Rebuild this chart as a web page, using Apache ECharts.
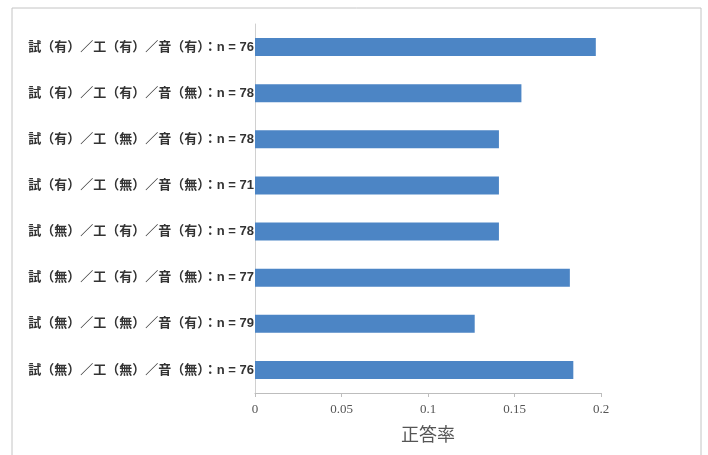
<!DOCTYPE html>
<html>
<head>
<meta charset="utf-8">
<script src="https://cdn.jsdelivr.net/npm/echarts@6/dist/echarts.min.js"></script>
<style>
  html, body { margin: 0; padding: 0; background: #fff; }
  #chart { width: 708px; height: 455px; }
</style>
</head>
<body>
<div id="chart"></div>
<script>
// Conditions (試 / 工 / 音) with sample size, listed top to bottom
const categories = [
  '試（有）／工（有）／音（有）：n = 76',
  '試（有）／工（有）／音（無）：n = 78',
  '試（有）／工（無）／音（有）：n = 78',
  '試（有）／工（無）／音（無）：n = 71',
  '試（無）／工（有）／音（有）：n = 78',
  '試（無）／工（有）／音（無）：n = 77',
  '試（無）／工（無）／音（有）：n = 79',
  '試（無）／工（無）／音（無）：n = 76'
];
// Correct-answer rate per condition
const rates = [0.197, 0.154, 0.141, 0.141, 0.141, 0.182, 0.127, 0.184];
const xTicks = ['0', '0.05', '0.1', '0.15', '0.2'];

const chart = echarts.init(document.getElementById('chart'));
chart.setOption({
  animation: false,
  backgroundColor: '#ffffff',
  graphic: [{
    type: 'rect',
    shape: { x: 12, y: 8, width: 689, height: 470 },
    style: { fill: 'none', stroke: '#c4c4c4', lineWidth: 1 },
    silent: true
  }],
  grid: { left: 255, right: 107, top: 24, bottom: 62 },
  xAxis: {
    type: 'value',
    min: 0,
    max: 0.2,
    interval: 0.05,
    name: '正答率',
    nameLocation: 'middle',
    nameGap: 32,
    nameTextStyle: { fontFamily: 'Noto Sans CJK JP', fontSize: 18, color: '#555' },
    axisLine: { show: true, lineStyle: { color: '#bdbdbd', width: 1 } },
    axisTick: { show: true, length: 4, lineStyle: { color: '#bdbdbd' } },
    splitLine: { show: false },
    axisLabel: {
      margin: 10,
      fontFamily: 'Liberation Serif, DejaVu Serif, serif',
      fontSize: 13,
      color: '#555',
      formatter: v => xTicks[Math.round(v / 0.05)]
    }
  },
  yAxis: {
    type: 'category',
    inverse: true,
    data: categories,
    axisLine: { show: true, lineStyle: { color: '#d0d0d0', width: 1 } },
    axisTick: { show: false },
    splitLine: { show: false },
    axisLabel: {
      margin: 1,
      fontFamily: 'Liberation Sans, Noto Sans CJK JP',
      fontWeight: 'bold',
      fontSize: 13,
      color: '#333'
    }
  },
  series: [{
    type: 'bar',
    data: rates,
    barWidth: 18,
    itemStyle: { color: '#4c85c5' }
  }]
});
</script>
</body>
</html>
